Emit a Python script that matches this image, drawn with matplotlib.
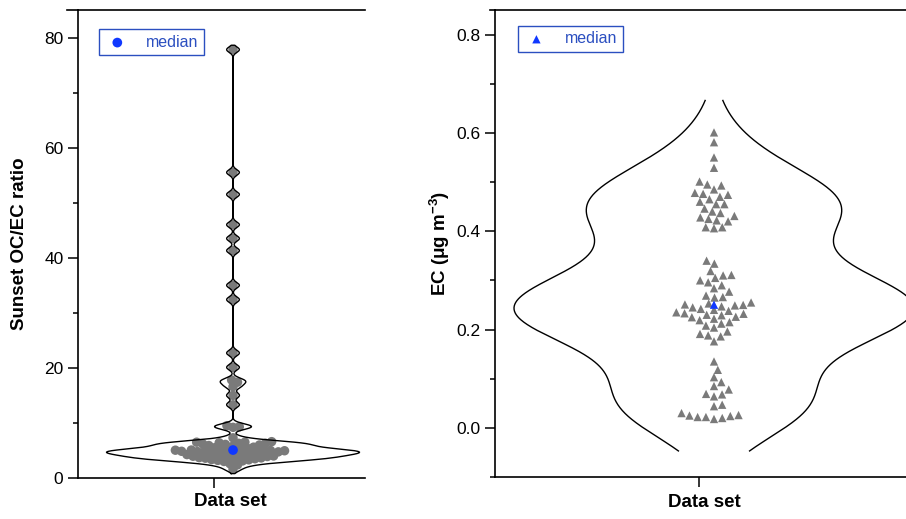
import numpy as np
import matplotlib.pyplot as plt
import matplotlib.transforms as mtransforms

plt.rcParams['font.family'] = ['Liberation Sans', 'DejaVu Sans']
plt.rcParams['mathtext.default'] = 'regular'

# ---- data ----
ocec_bulk = [6.6, 6.5, 6.5, 6.4, 6.3, 6.3, 6.2, 6.1, 6.0, 5.9, 5.8, 5.6, 5.5, 5.4,
             5.3, 5.2, 5.08, 5.05, 5.0, 5.0, 4.95, 4.9, 4.85, 4.8, 4.75, 4.7, 4.65,
             4.6, 4.5, 4.45, 4.4, 4.3, 4.25, 4.2, 4.1, 4.0, 3.95, 3.9, 3.8, 3.7,
             3.65, 3.6, 3.5, 3.4, 3.35, 3.3, 3.2, 3.1, 3.0, 2.6, 2.4, 1.6]
ocec_tail = [77.8, 55.5, 51.5, 46.0, 43.5, 41.3, 35.0, 32.4, 22.7, 20.1, 17.8,
             17.4, 16.6, 15.0, 13.3, 9.5, 9.3, 9.2, 7.3]

ec_low = [0.135, 0.118, 0.103, 0.093, 0.085, 0.078, 0.069, 0.068, 0.064, 0.047,
          0.044, 0.030, 0.026, 0.025, 0.024, 0.022, 0.022, 0.020, 0.018]
ec_mid = [0.176, 0.186, 0.188, 0.191, 0.196, 0.204, 0.208, 0.212, 0.215, 0.219,
          0.222, 0.225, 0.226, 0.229, 0.230, 0.232, 0.233, 0.235, 0.238, 0.240,
          0.242, 0.245, 0.247, 0.249, 0.250, 0.251, 0.253, 0.255, 0.265, 0.266,
          0.269, 0.277, 0.284, 0.290, 0.296, 0.300, 0.305, 0.310, 0.311, 0.319,
          0.334, 0.340]
ec_high = [0.601, 0.581, 0.550, 0.529, 0.501, 0.495, 0.493, 0.485, 0.478, 0.476,
           0.474, 0.470, 0.465, 0.460, 0.455, 0.455, 0.446, 0.440, 0.437, 0.431,
           0.428, 0.425, 0.422, 0.420, 0.408, 0.408, 0.406]

ocec = np.array(ocec_bulk + ocec_tail)
ec = np.array(ec_low + ec_mid + ec_high)

GRAY = '#7a7a7a'
BLUE = '#1038ff'
LEGBLUE = '#2b4fc0'

W, H = 906, 519
fig = plt.figure(figsize=(W / 100, H / 100), dpi=100)


def px_box(x0, x1, ytop, ybot):
    return [x0 / W, 1 - ybot / H, (x1 - x0) / W, (ybot - ytop) / H]


def kde_curve(vals, bw, cut, n=600):
    grid = np.linspace(vals.min() - cut, vals.max() + cut, n)
    dens = np.exp(-0.5 * ((grid[:, None] - vals[None, :]) / bw) ** 2).sum(axis=1)
    return grid, dens / dens.max()


def swarm(ax, vals, d):
    # simple beeswarm in display pixels, returns x offsets in data units
    ypx = ax.transData.transform(np.column_stack([np.zeros(len(vals)), vals]))[:, 1]
    ppx = ax.transData.transform([[1, 0]])[0, 0] - ax.transData.transform([[0, 0]])[0, 0]
    xs = np.zeros(len(vals))
    px_, py_ = [], []
    for i in np.argsort(ypx):
        y = ypx[i]
        cands = [0.0]
        for a, b in zip(px_, py_):
            dy = abs(b - y)
            if dy < d:
                dx = np.sqrt(d * d - dy * dy)
                cands += [a + dx, a - dx]
        cands.sort(key=abs)
        for c in cands:
            if all((c - a) ** 2 + (y - b) ** 2 >= d * d - 1e-6 for a, b in zip(px_, py_)):
                break
        xs[i] = c
        px_.append(c)
        py_.append(y)
    return xs / ppx


def style_axes(ax, xr):
    ax.spines['right'].set_visible(False)
    for s in ['left', 'top', 'bottom']:
        ax.spines[s].set_linewidth(1.2)
    ax.tick_params(axis='both', which='major', direction='out', length=7.5, width=1.1,
                   labelsize=12.5, pad=3)
    ax.tick_params(axis='y', which='minor', direction='out', length=3.8, width=1.1)
    ax.tick_params(axis='x', which='minor', bottom=False)
    # top line sticks out past the left axis
    ax.plot([xr, 0], [1, 1], color='black', lw=1.2, transform=ax.transAxes, clip_on=False)


def add_legend(ax, anchor):
    leg = ax.legend(loc='upper left', bbox_to_anchor=anchor, fancybox=False,
                    edgecolor=LEGBLUE, labelcolor=LEGBLUE, fontsize=11.5,
                    handlelength=1.6, handletextpad=1.0, borderpad=0.35,
                    borderaxespad=0, framealpha=1)
    leg.get_frame().set_linewidth(1.0)


# ---------------- left panel ----------------
ax1 = fig.add_axes(px_box(78, 365, 10, 478))
ax1.set_xlim(-1.225, 1.043)
ax1.set_ylim(0, 85)
style_axes(ax1, -0.038)
ax1.set_yticks([0, 20, 40, 60, 80])
ax1.set_yticks([10, 30, 50, 70], minor=True)
ax1.set_xticks([-0.15])
ax1.set_xticklabels([''])

g, dens = kde_curve(ocec, 0.5, 0.8)
ax1.plot(np.concatenate([-dens, dens[::-1], [-dens[0]]]),
         np.concatenate([g, g[::-1], [g[0]]]), color='black', lw=1.0, zorder=3)
xo = swarm(ax1, ocec, 6.3)
ax1.scatter(xo, ocec, s=6.8 ** 2, color=GRAY, edgecolors='none', zorder=2)
ax1.scatter([0], [np.median(ocec)], s=7.0 ** 2, color=BLUE, edgecolors='none',
            zorder=4, label='median')
ax1.set_ylabel('Sunset OC/EC ratio', fontsize=13.5, fontweight='bold')
ax1.yaxis.set_label_coords(-0.174, 0.5)
tr1 = mtransforms.blended_transform_factory(ax1.transData, ax1.transAxes)
ax1.text(-0.024, -0.051, 'Data set', transform=tr1, ha='center', va='center',
         fontsize=13.5, fontweight='bold')
add_legend(ax1, (0.073, 0.959))

# ---------------- right panel ----------------
ax2 = fig.add_axes(px_box(495, 930, 10, 477))
ax2.set_xlim(-1.095, 1.08)
ax2.set_ylim(-0.1, 0.85)
style_axes(ax2, -0.0115)
ax2.set_yticks([0.0, 0.2, 0.4, 0.6, 0.8])
ax2.set_yticks([-0.1, 0.1, 0.3, 0.5, 0.7], minor=True)
ax2.yaxis.set_major_formatter(plt.FormatStrFormatter('%.1f'))
ax2.set_xticks([-0.075])
ax2.set_xticklabels([''])

g2, dens2 = kde_curve(ec, 0.066, 0.065)
ax2.plot(-dens2, g2, color='black', lw=1.0, zorder=3)
ax2.plot(dens2, g2, color='black', lw=1.0, zorder=3)
xo2 = swarm(ax2, ec, 8.3)
ax2.scatter(xo2, ec, s=6.0 ** 2, marker='^', color=GRAY, edgecolors='none', zorder=2)
ax2.scatter([0], [np.median(ec)], s=6.0 ** 2, marker='^', color=BLUE,
            edgecolors='none', zorder=4, label='median')
ax2.set_ylabel(r'EC (μg m$^{-3}$)', fontsize=13.5, fontweight='bold')
ax2.yaxis.set_label_coords(-0.099, 0.5)
tr2 = mtransforms.blended_transform_factory(ax2.transData, ax2.transAxes)
ax2.text(-0.05, -0.054, 'Data set', transform=tr2, ha='center', va='center',
         fontsize=13.5, fontweight='bold')
add_legend(ax2, (0.053, 0.966))

fig.savefig('out.png', dpi=100)
